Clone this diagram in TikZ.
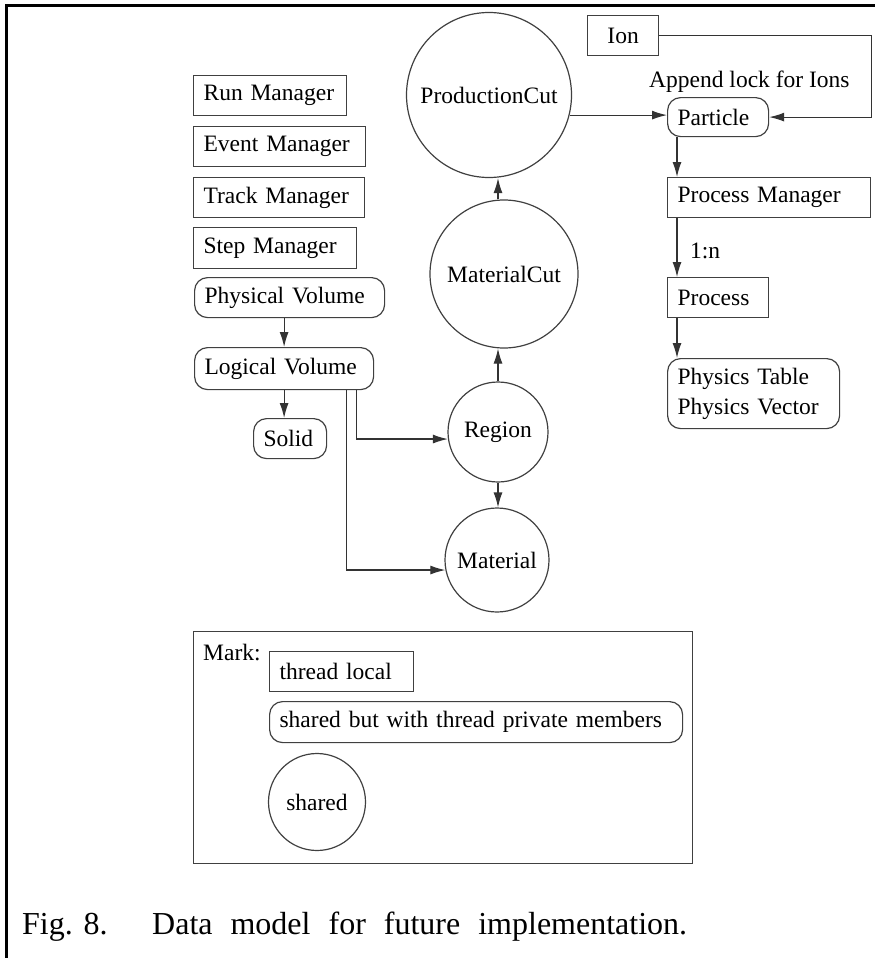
\documentclass[tikz,border=0pt]{standalone}
\usepackage{fontspec}
\setmainfont{Liberation Serif}
\usetikzlibrary{arrows.meta,shapes.geometric}
\newcommand{\diagfont}{\fontsize{23.5}{30}\selectfont}
\newcommand{\capfont}{\fontsize{32}{38}\selectfont}
\tikzset{
  tlocal/.style={draw=black!75, line width=1.2pt, anchor=north west, minimum height=40pt,
    inner xsep=10pt, inner ysep=0pt, align=left, font=\diagfont},
  tprivate/.style={tlocal, rounded corners=13pt},
  tshared/.style={draw=black!75, line width=1.2pt, circle, inner sep=0pt, font=\diagfont},
  link/.style={draw=black!80, line width=1.2pt, -{Latex[length=15pt,width=9pt]}},
  note/.style={inner sep=0pt, anchor=base west, font=\diagfont}
}

\begin{document}
\begin{tikzpicture}[x=1pt,y=-1pt]
\useasboundingbox (0,0) rectangle (875,958);
\draw[line width=3pt] (5,6) -- (875,6);
\draw[line width=3pt] (6.5,6) -- (6.5,958);

% managers and geometry
\node[tlocal, text width=133pt] (runmgr) at (193,75) {Run Manager};
\node[tlocal, text width=152pt] (evtmgr) at (193,126) {Event Manager};
\node[tlocal, text width=151pt] (trkmgr) at (193,177) {Track Manager};
\node[tlocal, text width=143pt, minimum height=41pt] (stpmgr) at (193,227) {Step Manager};
\node[tprivate, text width=170pt] (pvol) at (194,277) {Physical Volume};
\node[tprivate, text width=159pt, minimum height=42pt] (lvol) at (194,347) {Logical Volume};
\node[tprivate, text width=53pt] (solid) at (253,418) {Solid};

% cuts, region, material
\node[tshared, minimum size=165pt] (pcut) at (489,95) {ProductionCut};
\node[tshared, minimum size=148pt] (mcut) at (504,274) {MaterialCut};
\node[tshared, minimum size=100pt] (region) at (498,432) {Region};
\node[tshared, minimum size=104pt] (material) at (497,560) {Material};

% particles and processes
\node[tlocal, text width=51pt, align=center] (ion) at (587,15) {Ion};
\node[note] (lock) at (649,87) {Append lock for Ions};
\node[tprivate, text width=81pt, minimum height=39pt] (particle) at (667,97) {Particle};
\node[tlocal, text width=183pt] (pmgr) at (667,177) {Process Manager};
\node[note] (onen) at (690,258) {1:n};
\node[tlocal, text width=81pt] (process) at (667,277) {Process};
\node[tprivate, text width=152pt, minimum height=70pt] (phystab) at (667,358) {Physics Table\\Physics Vector};

\draw[link] (pvol.south -| lvol.south) -- (lvol.north);
\draw[link] (lvol.south) -- (lvol.south |- solid.north);
\draw[link] ([xshift=-18pt]lvol.south east) |- (region.188);
\draw[link] ([xshift=-28pt]lvol.south east) |- (material.191);
\draw[link] (region.south) -- (region.south |- material.north);
\draw[link] (region.north) -- (region.north |- mcut.south);
\draw[link] (region.north |- mcut.north) -- (region.north |- pcut.south);
\draw[link] (pcut.-14) -- (pcut.-14 -| particle.west);
\draw[link] (ion.east) -| (pmgr.east |- particle) -- (particle.east);
\draw[link] ([xshift=10pt]particle.south west) -- ([xshift=10pt]particle.south west |- pmgr.north);
\draw[link] ([xshift=10pt]pmgr.south west) -- ([xshift=10pt]pmgr.south west |- process.north);
\draw[link] ([xshift=10pt]process.south west) -- ([xshift=10pt]process.south west |- phystab.north);

% legend
\node[draw=black!75, line width=1.2pt, anchor=north west, minimum width=499pt,
  minimum height=232pt, inner sep=0pt] (legend) at (193,631) {};
\node[note] (mark) at (203,660) {Mark:};
\node[tlocal, text width=124pt] (keylocal) at (269,651) {thread local};
\node[tprivate, text width=393pt, minimum height=41pt] (keyprivate) at (269,701) {shared but with thread private members};
\node[tshared, minimum size=97pt] (keyshared) at (317,802) {shared};

\node[inner sep=0pt, anchor=base west, font=\capfont] (figno) at (22,934) {Fig. 8.};
\node[inner sep=0pt, anchor=base west, font=\capfont] (caption) at (152,934)
  {\spaceskip=18pt Data model for future implementation.};
\end{tikzpicture}
\end{document}
